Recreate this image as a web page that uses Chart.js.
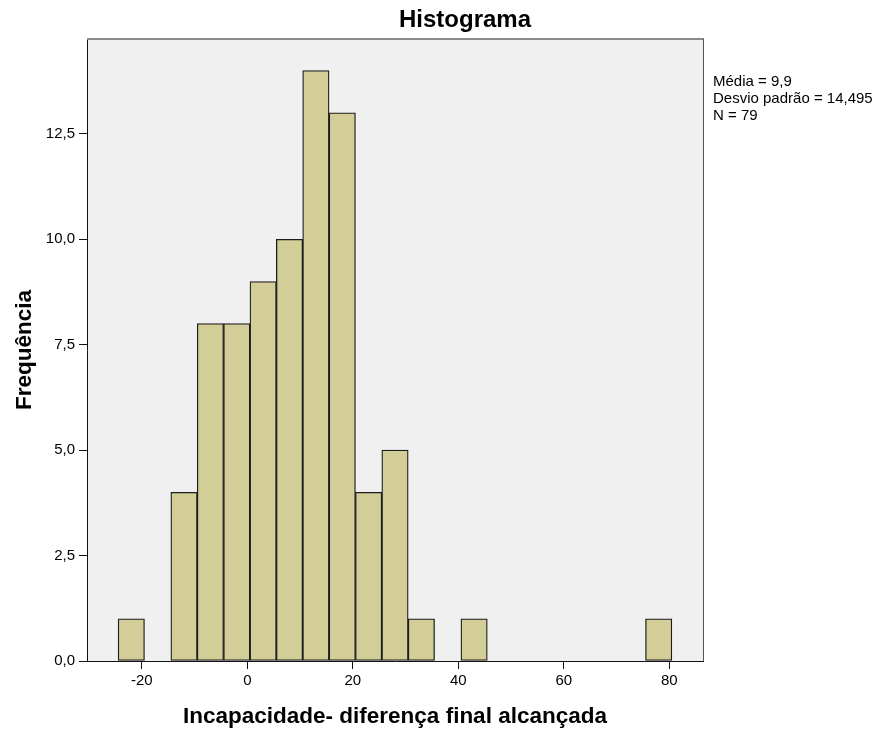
<!DOCTYPE html>
<html><head><meta charset="utf-8">
<script src="https://cdn.jsdelivr.net/npm/chart.js@4.4.0/dist/chart.umd.min.js"></script>
<style>html,body{margin:0;padding:0;background:#fff}canvas{display:block}</style>
</head><body>
<canvas id="c" width="889" height="734"></canvas>
<script>
const binCenters = [-22, -12, -7, -2, 3, 8, 13, 18, 23, 28, 33, 43, 78];
const frequencies = [1, 4, 8, 8, 9, 10, 14, 13, 4, 5, 1, 1, 1];
const xTickValues = [-20, 0, 20, 40, 60, 80];
const xTickLabels = ['-20', '0', '20', '40', '60', '80'];
const yTickValues = [0, 2.5, 5, 7.5, 10, 12.5];
const yTickLabels = ['0,0', '2,5', '5,0', '7,5', '10,0', '12,5'];
const chartTitle = 'Histograma';
const xTitle = 'Incapacidade- diferença final alcançada';
const yTitle = 'Frequência';
const statsLines = ['Média = 9,9', 'Desvio padrão = 14,495', 'N = 79'];

const FONT = '"Liberation Sans", Arial, sans-serif';

const decor = {
  id: 'decor',
  beforeDraw(chart) {
    const {ctx, chartArea: a} = chart;
    ctx.save();
    ctx.fillStyle = '#f0f0f0';
    ctx.fillRect(a.left, a.top, a.right - a.left, a.bottom - a.top);
    ctx.restore();
  },
  afterDraw(chart) {
    const {ctx, chartArea: a} = chart;
    ctx.save();
    ctx.strokeStyle = '#8a8a8a'; ctx.lineWidth = 2;
    ctx.beginPath(); ctx.moveTo(a.left, a.top); ctx.lineTo(a.right + 1, a.top); ctx.stroke();
    ctx.strokeStyle = '#555'; ctx.lineWidth = 1;
    ctx.beginPath(); ctx.moveTo(Math.round(a.right) + 0.5, a.top); ctx.lineTo(Math.round(a.right) + 0.5, a.bottom); ctx.stroke();

    ctx.fillStyle = '#000';
    ctx.textBaseline = 'alphabetic';
    ctx.textAlign = 'center';
    ctx.font = 'bold 24px ' + FONT;
    ctx.fillText(chartTitle, 465, 27);
    ctx.font = 'bold 22.5px ' + FONT;
    ctx.fillText(xTitle, (a.left + a.right) / 2, 723);
    ctx.save();
    ctx.translate(31, (a.top + a.bottom) / 2);
    ctx.rotate(-Math.PI / 2);
    ctx.fillText(yTitle, 0, 0);
    ctx.restore();
    ctx.textAlign = 'left';
    ctx.font = '15px ' + FONT;
    statsLines.forEach((s, i) => ctx.fillText(s, 713, 86 + i * 17));
    ctx.restore();
  }
};

new Chart(document.getElementById('c'), {
  type: 'bar',
  data: {
    datasets: [{
      data: binCenters.map((x, i) => ({x: x, y: frequencies[i]})),
      backgroundColor: '#d3ce97',
      borderColor: '#1c1c1c',
      borderWidth: 1.3,
      borderSkipped: false,
      barPercentage: 1,
      categoryPercentage: 1
    }]
  },
  options: {
    responsive: false,
    animation: false,
    events: [],
    layout: {padding: {top: 39, right: 186, bottom: 0, left: 0}},
    plugins: {legend: {display: false}, tooltip: {enabled: false}, title: {display: false}},
    scales: {
      x: {
        type: 'linear',
        offset: false,
        min: -30.4,
        max: 86.4,
        afterBuildTicks(s) { s.ticks = xTickValues.map(v => ({value: v})); },
        afterFit(s) { s.height = 73; },
        grid: {display: true, offset: false, drawOnChartArea: false, drawTicks: true, tickLength: 8, color: '#111', lineWidth: 1},
        border: {display: true, color: '#111', width: 1},
        ticks: {
          autoSkip: false, maxRotation: 0, padding: 3, color: '#000',
          font: {family: FONT, size: 15},
          callback: (v) => xTickLabels[xTickValues.indexOf(v)]
        }
      },
      y: {
        min: 0,
        max: 14.75,
        afterBuildTicks(s) { s.ticks = yTickValues.map(v => ({value: v})); },
        afterFit(s) { s.width = 87; },
        grid: {display: true, drawOnChartArea: false, drawTicks: true, tickLength: 8, color: '#111', lineWidth: 1},
        border: {display: true, color: '#111', width: 1},
        ticks: {
          autoSkip: false, padding: 4, color: '#000',
          font: {family: FONT, size: 15},
          callback: (v) => yTickLabels[yTickValues.indexOf(v)]
        }
      }
    }
  },
  plugins: [decor]
});
</script>
</body></html>
